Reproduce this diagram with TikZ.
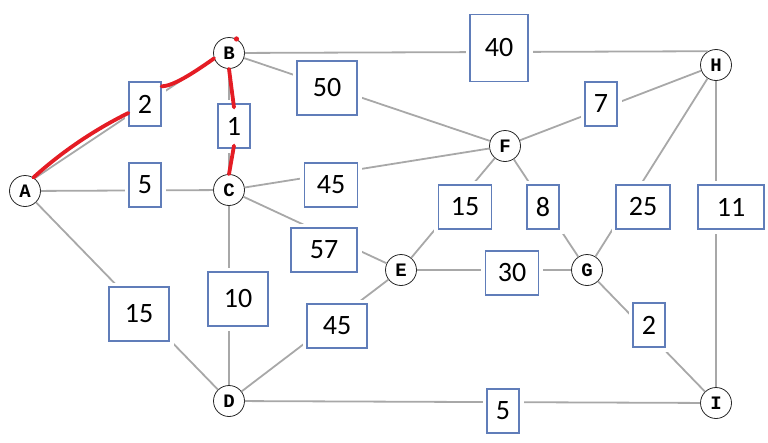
\documentclass[tikz,border=0pt]{standalone}
\usepackage{fontspec}
\setmainfont{Carlito}
\newfontfamily\vertexfont{Liberation Mono}
\usepackage{tikz}
\definecolor{edgegray}{RGB}{168,168,168}
\definecolor{boxblue}{RGB}{96,125,185}
\definecolor{penred}{RGB}{228,28,36}

\begin{document}
\begin{tikzpicture}[x=1pt, y=-1pt,
    vertex/.style={circle, draw=black!85, fill=white, line width=0.8pt, minimum size=31pt, inner sep=0pt, font=\vertexfont\bfseries\fontsize{19}{19}\selectfont},
    weight/.style={draw=boxblue, fill=white, line width=1.2pt, minimum width=32pt, minimum height=44pt, inner sep=0pt, font=\fontsize{28}{28}\selectfont, preaction={draw=white, line width=9pt}},
    edge/.style={draw=edgegray, line width=1.8pt},
    redpen/.style={draw=penred, line width=3.8pt, line cap=round}]
        \useasboundingbox (0, 0) rectangle (768, 442);
        \node [vertex] (A) at (25, 191) {A};
        \node [vertex] (B) at (229, 53) {B};
        \node [vertex] (C) at (229, 190) {C};
        \node [vertex] (D) at (229, 401) {D};
        \node [vertex] (E) at (401, 270) {E};
        \node [vertex] (F) at (505, 146) {F};
        \node [vertex] (G) at (587, 270) {G};
        \node [vertex] (H) at (716, 65) {H};
        \node [vertex] (I) at (716, 403) {I};
        \draw [edge] (A.53) -- (B.200);
        \draw [edge] (A) -- (C);
        \draw [edge] (A) -- (D);
        \draw [edge] (B) -- (C);
        \draw [edge] (B) -- (F);
        \draw [edge] (B) -- (H.120);
        \draw [edge] (C) -- (F);
        \draw [edge] (C) -- (E);
        \draw [edge] (C) -- (D);
        \draw [edge] (D) -- (E);
        \draw [edge] (D) -- (I);
        \draw [edge] (E) -- (F);
        \draw [edge] (E) -- (G);
        \draw [edge] (F) -- (G);
        \draw [edge] (F) -- (H);
        \draw [edge] (G) -- (H);
        \draw [edge] (G) -- (I);
        \draw [edge] (H) -- (I);
        \node [weight] (wAB) at (145, 104) {2};
        \node [weight] (wBC) at (234, 126) {1};
        \node [weight, minimum width=60pt, minimum height=54pt] (wBF) at (327, 88) {50};
        \node [weight] (wAC) at (145, 185) {5};
        \node [weight, minimum width=53pt] (wCF) at (331, 185) {45};
        \node [weight, minimum width=58pt, minimum height=67pt] (wBH) at (499, 48) {40};
        \node [weight] (wFH) at (601, 104) {7};
        \node [weight, minimum width=53pt] (wEF) at (465, 207) {15};
        \node [weight] (wFG) at (543, 207) {8};
        \node [weight, minimum width=54pt] (wGH) at (643, 207) {25};
        \node [weight, minimum width=66pt] (wHI) at (731, 207) {11};
        \node [weight, minimum width=66pt] (wCE) at (324, 250) {57};
        \node [weight, minimum width=60pt, minimum height=54pt] (wCD) at (238, 299) {10};
        \node [weight, minimum width=60pt, minimum height=54pt] (wAD) at (139, 314) {15};
        \node [weight, minimum width=60pt] (wDE) at (337, 326) {45};
        \node [weight, minimum width=53pt] (wEG) at (512, 273) {30};
        \node [weight] (wGI) at (649, 325) {2};
        \node [weight] (wDI) at (503, 411) {5};
        % shortest route marked by hand
        \draw [redpen] (A.58) .. controls (66, 148) and (100, 127) .. ([yshift=-9pt]wAB.west);
        \draw [redpen] ([yshift=-5pt]wAB.north east) .. controls (173, 86) and (192, 74) .. (B.200);
        \draw [redpen] (B.south) -- ([yshift=-4pt]wBC.north);
        \draw [redpen] ([yshift=3pt]wBC.south) -- (C.north);
        \fill [penred] (B.62) circle (2.6);
\end{tikzpicture}
\end{document}
